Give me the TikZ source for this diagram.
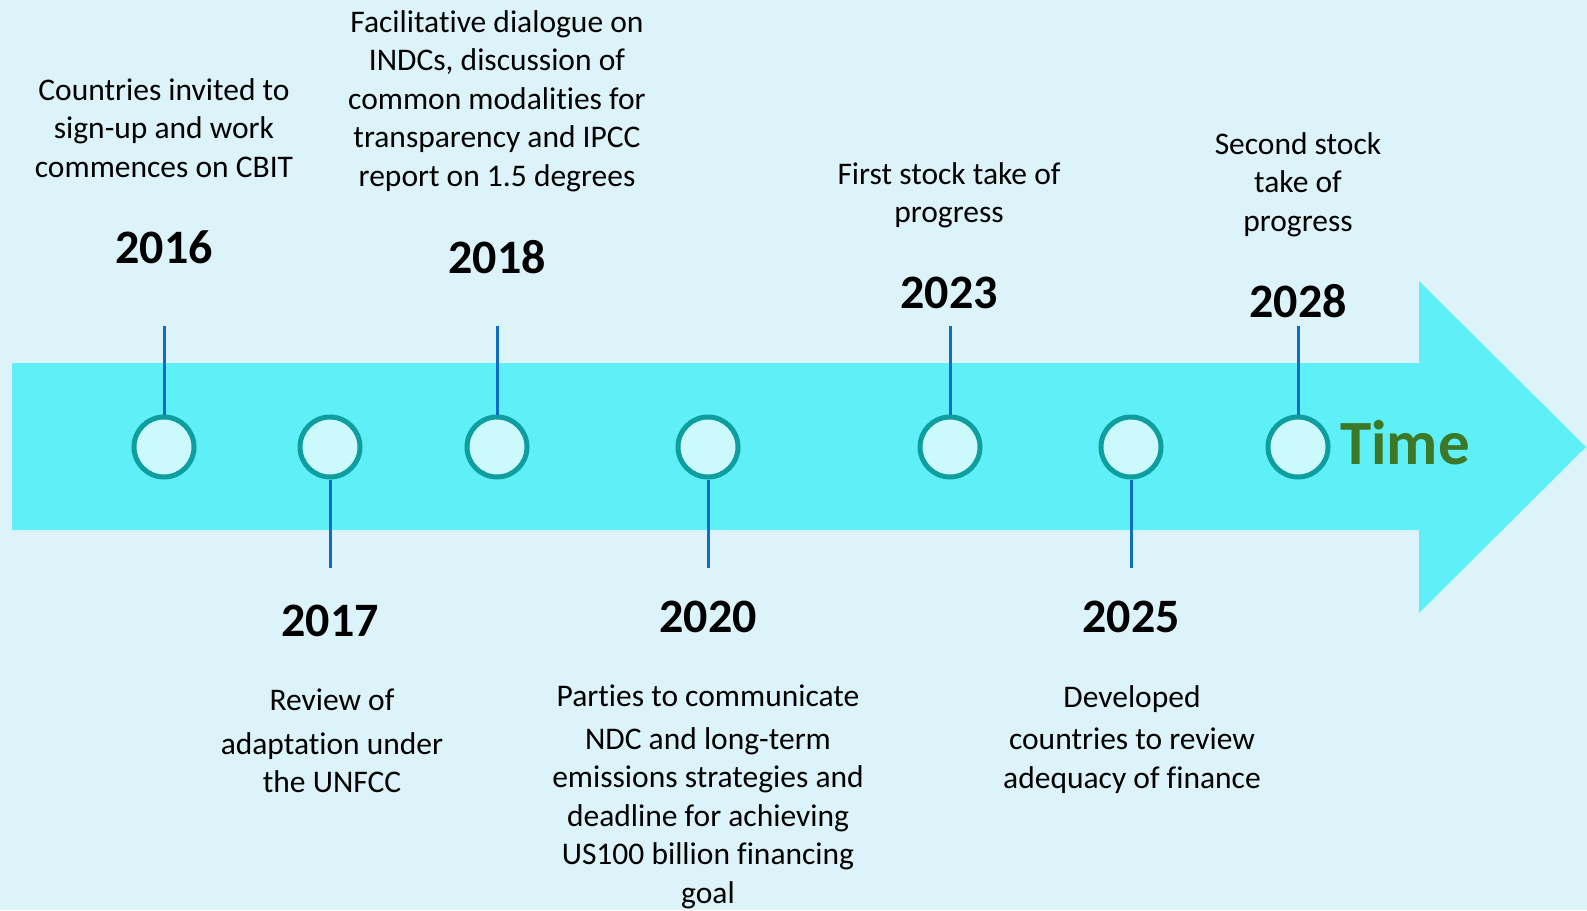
\documentclass[tikz,border=0pt]{standalone}
\usepackage{fontspec}
\setmainfont{Carlito}[Ligatures=NoCommon]
\definecolor{bg}{RGB}{220,244,249}
\definecolor{arrowc}{RGB}{94,240,246}
\definecolor{ringc}{RGB}{14,158,160}
\definecolor{dotfill}{RGB}{204,250,252}
\definecolor{stemc}{RGB}{14,110,198}
\definecolor{timec}{RGB}{60,120,40}
\begin{document}
\begin{tikzpicture}[x=1pt,y=-1pt,
  dot/.style={circle,draw=ringc,fill=dotfill,line width=5pt,minimum size=60pt,inner sep=0pt},
  stem/.style={draw=stemc,line width=3pt},
  year/.style={font=\bfseries\fontsize{48}{58}\selectfont,inner sep=0pt},
  desc/.style={font=\fontsize{31.5}{38.5}\selectfont,align=center,inner sep=0pt,anchor=north}]
\fill[bg] (0,0) rectangle (1587,910);
\useasboundingbox (0,0) rectangle (1587,910);
\fill[arrowc] (12,363) -- (1419,363) -- (1419,281) -- (1586,447) -- (1419,613) -- (1419,530) -- (12,530) -- cycle;

% circles
\node[dot] (c16) at (164,447) {};
\node[dot] (c17) at (330,447) {};
\node[dot] (c18) at (497,447) {};
\node[dot] (c20) at (708,447) {};
\node[dot] (c23) at (950,447) {};
\node[dot] (c25) at (1131,447) {};
\node[dot] (c28) at (1298,447) {};

% stem ends
\coordinate (s16) at (164,326);
\coordinate (s18) at (497,326);
\coordinate (s23) at (950,326);
\coordinate (s28) at (1298,326);
\coordinate (s17) at (330,568);
\coordinate (s20) at (708,568);
\coordinate (s25) at (1131,568);

\draw[stem] (s16) -- (c16.north);
\draw[stem] (s18) -- (c18.north);
\draw[stem] (s23) -- (c23.north);
\draw[stem] (s28) -- (c28.north);
\draw[stem] (c17.south) -- (s17);
\draw[stem] (c20.south) -- (s20);
\draw[stem] (c25.south) -- (s25);

% years
\node[year] (y16) at (164,247) {2016};
\node[year] (y18) at (497,257) {2018};
\node[year] (y23) at (949,293) {2023};
\node[year] (y28) at (1298,301) {2028};
\node[year] (y17) at (330,621) {2017};
\node[year] (y20) at (708,617) {2020};
\node[year] (y25) at (1131,617) {2025};

% descriptions
\node[desc] (d16) at (164,78) {Countries invited to\\sign-up and work\\commences on CBIT};
\node[desc] (d18) at (497,10) {Facilitative dialogue on\\INDCs, discussion of\\common modalities for\\transparency and IPCC\\report on 1.5 degrees};
\node[desc] (d23) at (949,162) {First stock take of\\progress};
\node[desc] (d28) at (1298,132) {Second stock\\take of\\progress};
\node[desc] (d17) at (332,689) {Review of\\[5pt]adaptation under\\the UNFCC};
\node[desc] (d20) at (708,685) {Parties to communicate\\[4pt]NDC and long-term\\emissions strategies and\\deadline for achieving\\US100 billion financing\\goal};
\node[desc] (d25) at (1132,685) {Developed\\[4pt]countries to review\\adequacy of finance};

\node[font=\bfseries\fontsize{63}{70}\selectfont,text=timec,inner sep=0pt,anchor=base west] (time) at (1340,464) {Time};
\end{tikzpicture}
\end{document}
